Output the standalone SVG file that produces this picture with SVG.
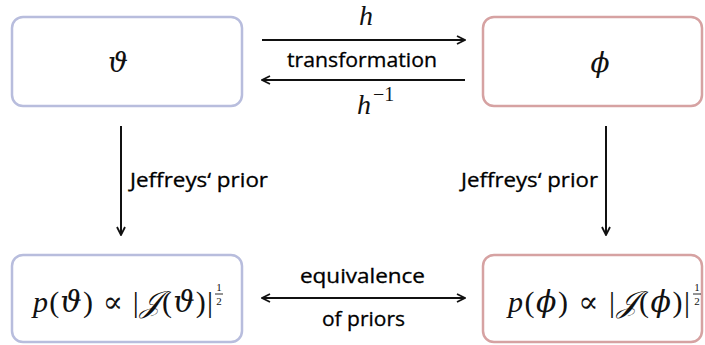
<svg xmlns="http://www.w3.org/2000/svg" width="705" height="345" viewBox="0 0 705 345">
<style>
.blue{fill:#fff;stroke:#b8bddd;stroke-width:2.5}
.red{fill:#fff;stroke:#d6a2a2;stroke-width:2.5}
.lbl{font-family:"Open Sans","DejaVu Sans",sans-serif;font-size:20px;font-weight:500;fill:#000;stroke:#000;stroke-width:0.3}
.math{font-family:"Liberation Serif","DejaVu Serif",serif;font-style:italic;font-size:28px;fill:#111}
.f{font-size:30px}
.g{font-family:"DejaVu Serif",serif;font-style:italic}
.up{font-family:"Liberation Serif","DejaVu Serif",serif;font-style:normal}
.frac{font-family:"Liberation Serif","DejaVu Serif",serif;font-size:11px;fill:#111}
.arr{stroke:#111;stroke-width:2;fill:none}
</style>
<defs>
<marker id="ah" viewBox="0 0 10 10" refX="9" refY="5" markerWidth="10" markerHeight="10" markerUnits="userSpaceOnUse" orient="auto-start-reverse">
<path d="M1,1 L9,5 L1,9" fill="none" stroke="#111" stroke-width="1.8"/>
</marker>
</defs>
<g id="theta">
<rect class="blue" x="12" y="17" width="230" height="89" rx="11"/>
<text class="math g" x="118" y="72" text-anchor="middle">ϑ</text>
</g>
<g id="phi">
<rect class="red" x="483" y="17" width="219" height="89" rx="11"/>
<text class="math g" x="600" y="72" text-anchor="middle">ϕ</text>
</g>
<g id="prior_theta">
<rect class="blue" x="12" y="255" width="230" height="87" rx="11"/>
<text class="math f" x="33" y="312" textLength="180" lengthAdjust="spacing">p<tspan class="up">(</tspan><tspan class="g">ϑ</tspan><tspan class="up">) ∝ |</tspan>𝒥<tspan class="up">(</tspan><tspan class="g">ϑ</tspan><tspan class="up">)|</tspan></text>
<text class="frac" x="219" y="291" text-anchor="middle">1</text>
<line x1="215" y1="294" x2="223" y2="294" stroke="#111" stroke-width="0.9"/>
<text class="frac" x="219" y="305" text-anchor="middle">2</text>
</g>
<g id="prior_phi">
<rect class="red" x="483" y="255" width="219" height="87" rx="11"/>
<text class="math f" x="508" y="312" textLength="182" lengthAdjust="spacing">p<tspan class="up">(</tspan><tspan class="g">ϕ</tspan><tspan class="up">) ∝ |</tspan>𝒥<tspan class="up">(</tspan><tspan class="g">ϕ</tspan><tspan class="up">)|</tspan></text>
<text class="frac" x="697" y="291" text-anchor="middle">1</text>
<line x1="693" y1="294" x2="701" y2="294" stroke="#111" stroke-width="0.9"/>
<text class="frac" x="697" y="305" text-anchor="middle">2</text>
</g>
<g id="connectors">
<line class="arr" x1="262" y1="40" x2="465" y2="40" marker-end="url(#ah)"/>
<line class="arr" x1="465" y1="80" x2="262" y2="80" marker-end="url(#ah)"/>
<line class="arr" x1="121" y1="126" x2="121" y2="235" marker-end="url(#ah)"/>
<line class="arr" x1="606" y1="126" x2="606" y2="235" marker-end="url(#ah)"/>
<line class="arr" x1="262" y1="298" x2="465" y2="298" marker-start="url(#ah)" marker-end="url(#ah)"/>
<text class="math" x="366" y="25" text-anchor="middle">h</text>
<text class="lbl" x="287" y="67" textLength="150" lengthAdjust="spacingAndGlyphs">transformation</text>
<text class="math" x="357" y="114">h<tspan class="up" font-size="20" dy="-13" dx="2">−1</tspan></text>
<text class="lbl" x="130" y="187" textLength="138" lengthAdjust="spacingAndGlyphs">Jeffreys‘ prior</text>
<text class="lbl" x="461" y="187" textLength="137" lengthAdjust="spacingAndGlyphs">Jeffreys‘ prior</text>
<text class="lbl" x="300" y="283" textLength="125" lengthAdjust="spacingAndGlyphs">equivalence</text>
<text class="lbl" x="322" y="326" textLength="83" lengthAdjust="spacingAndGlyphs">of priors</text>
</g>
</svg>
